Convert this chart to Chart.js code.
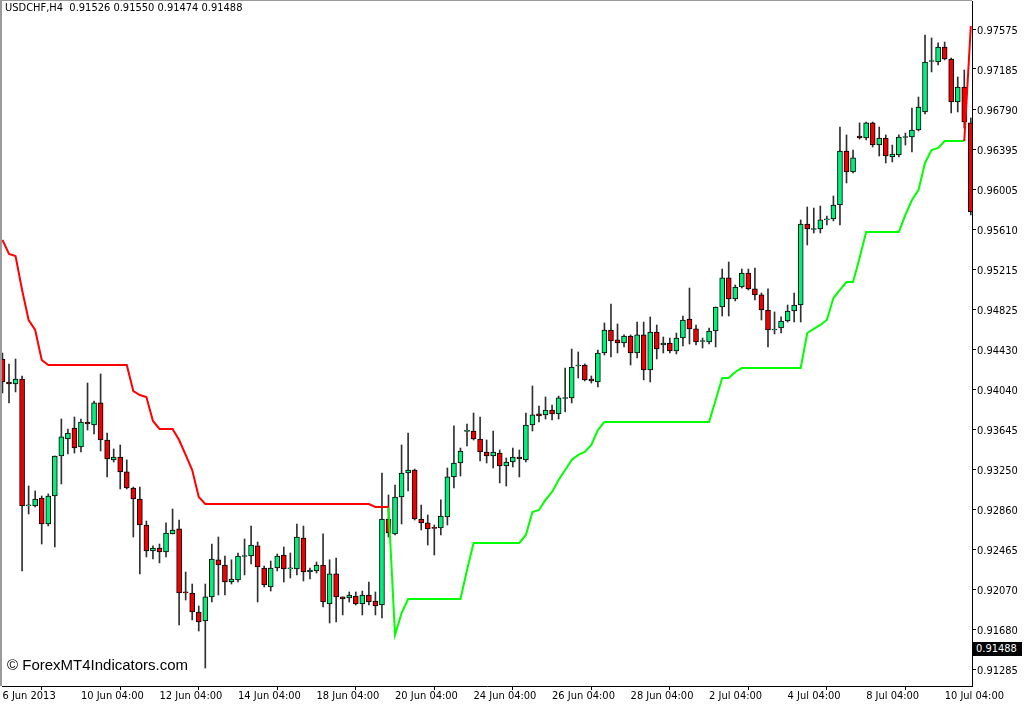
<!DOCTYPE html>
<html>
<head>
<meta charset="utf-8">
<title>USDCHF,H4</title>
<script src="https://cdn.jsdelivr.net/npm/chart.js@4.4.0/dist/chart.umd.min.js"></script>
<style>
  html, body { margin: 0; padding: 0; background: #fff; }
  #wrap { position: relative; width: 1024px; height: 705px; overflow: hidden; }
  #chart { display: block; }
  .hdr { position: absolute; left: 5px; top: 1px; font: 11px 'DejaVu Sans Condensed', 'DejaVu Sans', sans-serif; color: #000; white-space: pre; }
  .mark { position: absolute; left: 7px; top: 656px; font: 15px 'Liberation Sans', Arial, sans-serif; color: #000; }
  .last { position: absolute; left: 972px; top: 642px; width: 50px; height: 14px; line-height: 14px; background: #000; color: #fff;
          font: 11px 'DejaVu Sans Condensed', 'DejaVu Sans', sans-serif; padding-left: 4px; box-sizing: border-box; }
</style>
</head>
<body>
<div id="wrap">
  <canvas id="chart" width="1024" height="705"></canvas>
  <div class="hdr">USDCHF,H4  0.91526 0.91550 0.91474 0.91488</div>
  <div class="mark">© ForexMT4Indicators.com</div>
  <div class="last">0.91488</div>
</div>
<script>
// time axis: bar index of each label (H4 bars, 6 Jun 04:00 = bar 0)
const timeTickIndex = [0, 12, 24, 36, 48, 60, 72, 84, 96, 108, 120, 132, 144];
const timeLabels = ['6 Jun 2013', '10 Jun 04:00', '12 Jun 04:00', '14 Jun 04:00', '18 Jun 04:00', '20 Jun 04:00',
    '24 Jun 04:00', '26 Jun 04:00', '28 Jun 04:00', '2 Jul 04:00', '4 Jul 04:00', '8 Jul 04:00', '10 Jul 04:00'];
const priceTicks = [0.97575, 0.97185, 0.96790, 0.96395, 0.96005, 0.95610, 0.95215, 0.94825, 0.94430,
    0.94040, 0.93645, 0.93250, 0.92860, 0.92465, 0.92070, 0.91680, 0.91285];

const opens = [
    0.94336, 0.94110, 0.94090, 0.94139, 0.92892, 0.92892, 0.92970, 0.92715, 0.92990, 0.93383,
    0.93550, 0.93658, 0.93471, 0.93717, 0.93687, 0.93904, 0.93540, 0.93344, 0.93373, 0.93226,
    0.93068, 0.92960, 0.92705, 0.92449, 0.92479, 0.92440, 0.92617, 0.92666, 0.92047, 0.92037,
    0.91850, 0.91762, 0.91998, 0.92363, 0.92312, 0.92145, 0.92165, 0.92395, 0.92400, 0.92499,
    0.92282, 0.92096, 0.92282, 0.92410, 0.92273, 0.92273, 0.92577, 0.92243, 0.92253, 0.92312,
    0.91929, 0.92224, 0.91998, 0.91988, 0.92007, 0.91929, 0.92017, 0.91958, 0.91919, 0.92764,
    0.92617, 0.92980, 0.93216, 0.93245, 0.92764, 0.92725, 0.92675, 0.92675, 0.92784, 0.93177,
    0.93314, 0.93624, 0.93628, 0.93550, 0.93422, 0.93383, 0.93412, 0.93285, 0.93324, 0.93373,
    0.93344, 0.93687, 0.93796, 0.93786, 0.93835, 0.93796, 0.93948, 0.93953, 0.94267, 0.94277,
    0.94139, 0.94110, 0.94395, 0.94621, 0.94523, 0.94493, 0.94562, 0.94395, 0.94572, 0.94228,
    0.94601, 0.94473, 0.94493, 0.94414, 0.94542, 0.94729, 0.94631, 0.94508, 0.94503, 0.94611,
    0.94847, 0.95132, 0.94925, 0.95043, 0.95181, 0.95024, 0.94965, 0.94817, 0.94621, 0.94640,
    0.94709, 0.94807, 0.94866, 0.95662, 0.95608, 0.95613, 0.95702, 0.95711, 0.95849, 0.96379,
    0.96173, 0.96527, 0.96507, 0.96655, 0.96438, 0.96507, 0.96321, 0.96340, 0.96512, 0.96517,
    0.96586, 0.96763, 0.97259, 0.97254, 0.97401, 0.97283, 0.96861, 0.97008, 0.96655
];
const highs = [
    0.94395, 0.94287, 0.94336, 0.94169, 0.93088, 0.93039, 0.92990, 0.93010, 0.93383, 0.93746,
    0.93648, 0.93766, 0.93746, 0.94100, 0.93923, 0.94189, 0.93609, 0.93452, 0.93491, 0.93344,
    0.93078, 0.93078, 0.92744, 0.92499, 0.92518, 0.92725, 0.92862, 0.92754, 0.92243, 0.92125,
    0.91909, 0.92125, 0.92518, 0.92587, 0.92400, 0.92363, 0.92430, 0.92567, 0.92695, 0.92538,
    0.92302, 0.92351, 0.92420, 0.92489, 0.92430, 0.92715, 0.92695, 0.92282, 0.92341, 0.92617,
    0.92363, 0.92381, 0.91998, 0.92047, 0.92047, 0.92056, 0.92145, 0.92047, 0.93216, 0.93000,
    0.93098, 0.93491, 0.93609, 0.93255, 0.92901, 0.92803, 0.92705, 0.92951, 0.93265, 0.93678,
    0.93461, 0.93697, 0.93805, 0.93766, 0.93540, 0.93628, 0.93442, 0.93363, 0.93461, 0.93442,
    0.93805, 0.94071, 0.93874, 0.93963, 0.93884, 0.93972, 0.94247, 0.94434, 0.94405, 0.94287,
    0.94169, 0.94424, 0.94690, 0.94876, 0.94680, 0.94572, 0.94572, 0.94699, 0.94699, 0.94749,
    0.94670, 0.94552, 0.94542, 0.94591, 0.94758, 0.95033, 0.94670, 0.94542, 0.94640, 0.94847,
    0.95220, 0.95289, 0.95063, 0.95220, 0.95220, 0.95230, 0.94984, 0.95024, 0.94798, 0.94749,
    0.94866, 0.94984, 0.95702, 0.95829, 0.95819, 0.95839, 0.95741, 0.95937, 0.96615, 0.96537,
    0.96389, 0.96655, 0.96664, 0.96664, 0.96615, 0.96537, 0.96438, 0.96537, 0.96556, 0.96802,
    0.96910, 0.97519, 0.97490, 0.97441, 0.97450, 0.97293, 0.97107, 0.97175, 0.96704
];
const lows = [
    0.94002, 0.93904, 0.94012, 0.92253, 0.92813, 0.92882, 0.92518, 0.92695, 0.92489, 0.93108,
    0.93402, 0.93412, 0.93422, 0.93638, 0.93599, 0.93432, 0.93177, 0.93324, 0.93059, 0.93059,
    0.92587, 0.92224, 0.92391, 0.92371, 0.92332, 0.92391, 0.92617, 0.91722, 0.91968, 0.91772,
    0.91663, 0.91300, 0.91948, 0.92017, 0.92017, 0.92125, 0.92145, 0.92214, 0.92322, 0.91948,
    0.92096, 0.92056, 0.92253, 0.92145, 0.92184, 0.92214, 0.92155, 0.92174, 0.92233, 0.91899,
    0.91742, 0.91752, 0.91821, 0.91948, 0.91919, 0.91821, 0.91919, 0.91821, 0.91791, 0.92587,
    0.92607, 0.92715, 0.93039, 0.92754, 0.92656, 0.92508, 0.92410, 0.92607, 0.92705, 0.93068,
    0.93186, 0.93481, 0.93540, 0.93334, 0.93314, 0.93265, 0.93118, 0.93088, 0.93275, 0.93177,
    0.93324, 0.93628, 0.93717, 0.93746, 0.93737, 0.93746, 0.93815, 0.93904, 0.94149, 0.94120,
    0.94100, 0.94061, 0.94375, 0.94356, 0.94395, 0.94454, 0.94277, 0.94346, 0.94130, 0.94110,
    0.94336, 0.94395, 0.94395, 0.94385, 0.94464, 0.94483, 0.94473, 0.94444, 0.94483, 0.94454,
    0.94758, 0.94758, 0.94906, 0.95033, 0.95014, 0.94916, 0.94719, 0.94454, 0.94582, 0.94591,
    0.94699, 0.94699, 0.94699, 0.95456, 0.95574, 0.95574, 0.95652, 0.95692, 0.95652, 0.96065,
    0.96163, 0.96497, 0.96488, 0.96419, 0.96330, 0.96262, 0.96271, 0.96321, 0.96438, 0.96370,
    0.96576, 0.96743, 0.97156, 0.97224, 0.97274, 0.96753, 0.96763, 0.96605, 0.95751
];
const closes = [
    0.94110, 0.94090, 0.94139, 0.92892, 0.92901, 0.92960, 0.92715, 0.92990, 0.93383, 0.93570,
    0.93609, 0.93461, 0.93717, 0.93697, 0.93904, 0.93540, 0.93353, 0.93373, 0.93226, 0.93068,
    0.92960, 0.92705, 0.92449, 0.92479, 0.92440, 0.92626, 0.92656, 0.92037, 0.92037, 0.91850,
    0.91752, 0.91998, 0.92371, 0.92312, 0.92145, 0.92174, 0.92400, 0.92400, 0.92508, 0.92292,
    0.92115, 0.92282, 0.92400, 0.92273, 0.92277, 0.92587, 0.92243, 0.92263, 0.92312, 0.91948,
    0.92224, 0.91998, 0.91978, 0.92017, 0.91929, 0.92017, 0.91948, 0.91909, 0.92764, 0.92626,
    0.92980, 0.93216, 0.93245, 0.92764, 0.92725, 0.92666, 0.92671, 0.92793, 0.93177, 0.93314,
    0.93432, 0.93628, 0.93550, 0.93422, 0.93383, 0.93422, 0.93285, 0.93324, 0.93373, 0.93353,
    0.93687, 0.93786, 0.93776, 0.93835, 0.93796, 0.93953, 0.93953, 0.94257, 0.94277, 0.94130,
    0.94120, 0.94395, 0.94621, 0.94513, 0.94493, 0.94562, 0.94395, 0.94572, 0.94228, 0.94601,
    0.94434, 0.94493, 0.94414, 0.94542, 0.94719, 0.94631, 0.94503, 0.94513, 0.94611, 0.94847,
    0.95132, 0.94925, 0.95043, 0.95181, 0.95024, 0.94965, 0.94817, 0.94621, 0.94626, 0.94709,
    0.94807, 0.94866, 0.95662, 0.95613, 0.95613, 0.95702, 0.95707, 0.95849, 0.96379, 0.96173,
    0.96311, 0.96507, 0.96655, 0.96438, 0.96507, 0.96330, 0.96350, 0.96517, 0.96517, 0.96586,
    0.96812, 0.97254, 0.97264, 0.97401, 0.97283, 0.96861, 0.97008, 0.96664, 0.95780
];

// trailing stop indicator: red above price (downtrend), green below (uptrend)
const redLine = [
    0.95505, 0.95368, 0.95348, 0.95014, 0.94719, 0.94621, 0.94326, 0.94277, 0.94277, 0.94277,
    0.94277, 0.94277, 0.94277, 0.94277, 0.94277, 0.94277, 0.94277, 0.94277, 0.94277, 0.94277,
    0.94021, 0.93982, 0.93963, 0.93727, 0.93648, 0.93648, 0.93648, 0.93540, 0.93393, 0.93245,
    0.92980, 0.92911, 0.92911, 0.92911, 0.92911, 0.92911, 0.92911, 0.92911, 0.92911, 0.92911,
    0.92911, 0.92911, 0.92911, 0.92911, 0.92911, 0.92911, 0.92911, 0.92911, 0.92911, 0.92911,
    0.92911, 0.92911, 0.92911, 0.92911, 0.92911, 0.92911, 0.92911, 0.92882, 0.92882, 0.92882,
    null, null, null, null, null, null, null, null, null, null,
    null, null, null, null, null, null, null, null, null, null,
    null, null, null, null, null, null, null, null, null, null,
    null, null, null, null, null, null, null, null, null, null,
    null, null, null, null, null, null, null, null, null, null,
    null, null, null, null, null, null, null, null, null, null,
    null, null, null, null, null, null, null, null, null, null,
    null, null, null, null, null, null, null, null, null, null,
    null, null, null, null, null, null, null, 0.96478, 0.97608
];
const greenLine = [
    null, null, null, null, null, null, null, null, null, null,
    null, null, null, null, null, null, null, null, null, null,
    null, null, null, null, null, null, null, null, null, null,
    null, null, null, null, null, null, null, null, null, null,
    null, null, null, null, null, null, null, null, null, null,
    null, null, null, null, null, null, null, null, null, 0.92882,
    0.91624, 0.91840, 0.91978, 0.91978, 0.91978, 0.91978, 0.91978, 0.91978, 0.91978, 0.91978,
    0.91978, 0.92263, 0.92528, 0.92528, 0.92528, 0.92528, 0.92528, 0.92528, 0.92528, 0.92528,
    0.92607, 0.92833, 0.92852, 0.92951, 0.93029, 0.93147, 0.93245, 0.93344, 0.93393, 0.93422,
    0.93491, 0.93638, 0.93717, 0.93717, 0.93717, 0.93717, 0.93717, 0.93717, 0.93717, 0.93717,
    0.93717, 0.93717, 0.93717, 0.93717, 0.93717, 0.93717, 0.93717, 0.93717, 0.93717, 0.93933,
    0.94149, 0.94149, 0.94208, 0.94247, 0.94247, 0.94247, 0.94247, 0.94247, 0.94247, 0.94247,
    0.94247, 0.94247, 0.94247, 0.94591, 0.94631, 0.94670, 0.94719, 0.94935, 0.95014, 0.95092,
    0.95092, 0.95328, 0.95584, 0.95584, 0.95584, 0.95584, 0.95584, 0.95584, 0.95751, 0.95898,
    0.95996, 0.96262, 0.96389, 0.96409, 0.96478, 0.96478, 0.96478, 0.96478, null
];

const bullColor = '#00f07c';
const bearColor = '#f00000';
const axisFont = { family: "'DejaVu Sans Condensed', 'DejaVu Sans', sans-serif", size: 11 };

const wickData = lows.map((l, i) => ({ x: i, y: [l, highs[i]] }));
const bodyData = opens.map((o, i) => ({ x: i, y: [o, closes[i]] }));
const redData = redLine.map((v, i) => ({ x: i, y: v }));
const greenData = greenLine.map((v, i) => ({ x: i, y: v }));

// gray window frame on the left and top, like the terminal
const framePlugin = {
    id: 'frame',
    beforeDraw(chart) {
        const ctx = chart.ctx;
        const a = chart.chartArea;
        ctx.save();
        ctx.fillStyle = '#fff';
        ctx.fillRect(0, 0, chart.width, chart.height);
        ctx.fillStyle = '#9a9a9a';
        ctx.fillRect(0, 0, 2, a.bottom);
        ctx.fillRect(0, 0, a.right, 1);
        ctx.restore();
    }
};

const ctx = document.getElementById('chart').getContext('2d');
new Chart(ctx, {
    type: 'bar',
    data: {
        datasets: [
            {
                type: 'line',
                data: redData,
                borderColor: '#ff0000',
                borderWidth: 2,
                pointRadius: 0,
                tension: 0,
                clip: 0
            },
            {
                type: 'line',
                data: greenData,
                borderColor: '#00ff00',
                borderWidth: 2,
                pointRadius: 0,
                tension: 0,
                clip: 0
            },
            {
                type: 'bar',
                data: bodyData,
                barThickness: 5,
                minBarLength: 1,
                grouped: false,
                backgroundColor: c => closes[c.dataIndex] >= opens[c.dataIndex] ? bullColor : bearColor,
                borderColor: '#000',
                borderWidth: 1,
                borderSkipped: false,
                clip: 0
            },
            {
                type: 'bar',
                data: wickData,
                barThickness: 1,
                grouped: false,
                backgroundColor: '#303030',
                borderWidth: 0,
                clip: 0
            }
        ]
    },
    options: {
        responsive: false,
        animation: false,
        events: [],
        layout: { padding: { left: 2, top: 1, right: 0, bottom: 0 } },
        plugins: {
            legend: { display: false },
            tooltip: { enabled: false }
        },
        scales: {
            x: {
                type: 'linear',
                position: 'bottom',
                min: -0.07,
                max: 148.18,
                offset: false,
                afterBuildTicks: s => { s.ticks = timeTickIndex.map(v => ({ value: v })); },
                afterFit: s => { s.height = 19; s.paddingLeft = 0; s.paddingRight = 0; },
                ticks: {
                    autoSkip: false,
                    maxRotation: 0,
                    align: 'start',
                    padding: 0,
                    color: '#000',
                    font: axisFont,
                    callback: v => {
                        const k = timeTickIndex.indexOf(v);
                        return k >= 0 ? timeLabels[k] : '';
                    }
                },
                grid: { display: true, drawOnChartArea: false, drawTicks: true, tickLength: 4, color: '#000' },
                border: { display: true, color: '#000' }
            },
            y: {
                type: 'linear',
                position: 'right',
                min: 0.91123,
                max: 0.97853,
                afterBuildTicks: s => { s.ticks = priceTicks.map(v => ({ value: v })); },
                afterFit: s => { s.width = 52; s.paddingTop = 0; s.paddingBottom = 0; },
                ticks: {
                    padding: 1,
                    labelOffset: 2,
                    color: '#000',
                    font: axisFont,
                    callback: v => v.toFixed(5)
                },
                grid: { display: true, drawOnChartArea: false, drawTicks: true, tickLength: 4, color: '#000' },
                border: { display: true, color: '#000' }
            }
        }
    },
    plugins: [framePlugin]
});
</script>
</body>
</html>
